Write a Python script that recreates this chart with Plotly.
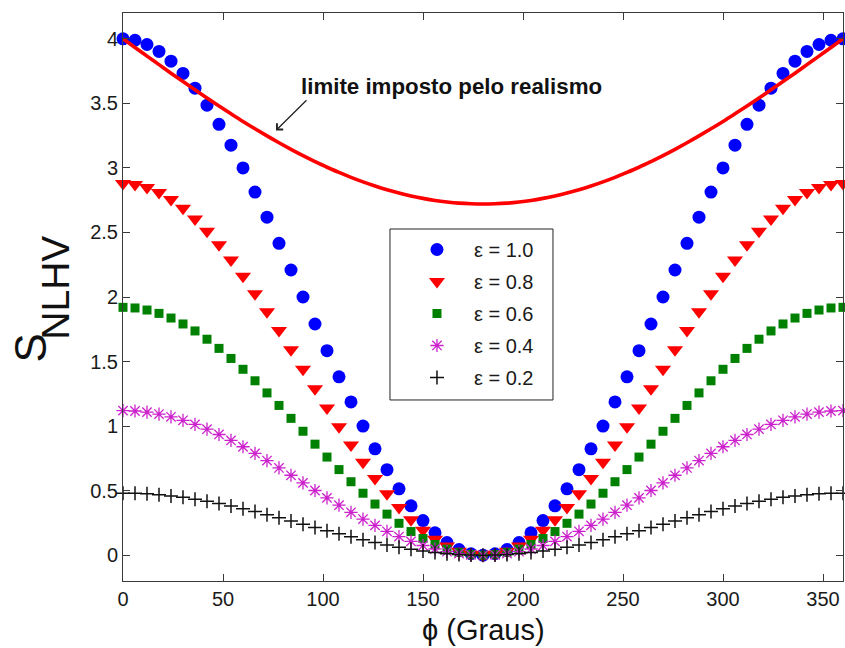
import plotly.graph_objects as go

# x grid (degrees)
phi = list(range(0, 361, 6))

s_eps10 = [4.0, 3.989, 3.956, 3.902, 3.827, 3.732, 3.618, 3.486, 3.338, 3.176, 3.0, 2.813, 2.618, 2.416, 2.209, 2.0,
           1.791, 1.584, 1.382, 1.187, 1.0, 0.824, 0.662, 0.514, 0.382, 0.268, 0.173, 0.098, 0.044, 0.011, 0.0,
           0.011, 0.044, 0.098, 0.173, 0.268, 0.382, 0.514, 0.662, 0.824, 1.0, 1.187, 1.382, 1.584, 1.791, 2.0,
           2.209, 2.416, 2.618, 2.813, 3.0, 3.176, 3.338, 3.486, 3.618, 3.732, 3.827, 3.902, 3.956, 3.989, 4.0]
s_eps08 = [2.88, 2.872, 2.849, 2.809, 2.756, 2.687, 2.605, 2.51, 2.404, 2.286, 2.16, 2.026, 1.885, 1.74, 1.591, 1.44,
           1.289, 1.14, 0.995, 0.854, 0.72, 0.594, 0.476, 0.37, 0.275, 0.193, 0.124, 0.071, 0.031, 0.008, 0.0,
           0.008, 0.031, 0.071, 0.124, 0.193, 0.275, 0.37, 0.476, 0.594, 0.72, 0.854, 0.995, 1.14, 1.289, 1.44,
           1.591, 1.74, 1.885, 2.026, 2.16, 2.286, 2.404, 2.51, 2.605, 2.687, 2.756, 2.809, 2.849, 2.872, 2.88]
s_eps06 = [1.92, 1.915, 1.899, 1.873, 1.837, 1.791, 1.737, 1.673, 1.602, 1.524, 1.44, 1.351, 1.257, 1.16, 1.06, 0.96,
           0.86, 0.76, 0.663, 0.569, 0.48, 0.396, 0.318, 0.247, 0.183, 0.129, 0.083, 0.047, 0.021, 0.005, 0.0,
           0.005, 0.021, 0.047, 0.083, 0.129, 0.183, 0.247, 0.318, 0.396, 0.48, 0.569, 0.663, 0.76, 0.86, 0.96,
           1.06, 1.16, 1.257, 1.351, 1.44, 1.524, 1.602, 1.673, 1.737, 1.791, 1.837, 1.873, 1.899, 1.915, 1.92]
s_eps04 = [1.12, 1.117, 1.108, 1.093, 1.072, 1.045, 1.013, 0.976, 0.935, 0.889, 0.84, 0.788, 0.733, 0.676, 0.619, 0.56,
           0.501, 0.444, 0.387, 0.332, 0.28, 0.231, 0.185, 0.144, 0.107, 0.075, 0.048, 0.027, 0.012, 0.003, 0.0,
           0.003, 0.012, 0.027, 0.048, 0.075, 0.107, 0.144, 0.185, 0.231, 0.28, 0.332, 0.387, 0.444, 0.501, 0.56,
           0.619, 0.676, 0.733, 0.788, 0.84, 0.889, 0.935, 0.976, 1.013, 1.045, 1.072, 1.093, 1.108, 1.117, 1.12]
s_eps02 = [0.48, 0.479, 0.475, 0.468, 0.459, 0.448, 0.434, 0.418, 0.401, 0.381, 0.36, 0.338, 0.314, 0.29, 0.265, 0.24,
           0.215, 0.19, 0.166, 0.142, 0.12, 0.099, 0.079, 0.062, 0.046, 0.032, 0.021, 0.012, 0.005, 0.001, 0.0,
           0.001, 0.005, 0.012, 0.021, 0.032, 0.046, 0.062, 0.079, 0.099, 0.12, 0.142, 0.166, 0.19, 0.215, 0.24,
           0.265, 0.29, 0.314, 0.338, 0.36, 0.381, 0.401, 0.418, 0.434, 0.448, 0.459, 0.468, 0.475, 0.479, 0.48]
s_limit = [4.0, 3.933, 3.866, 3.8, 3.734, 3.669, 3.605, 3.541, 3.479, 3.419, 3.36, 3.303, 3.248, 3.195, 3.144, 3.095,
           3.049, 3.005, 2.965, 2.927, 2.892, 2.86, 2.831, 2.805, 2.783, 2.764, 2.748, 2.736, 2.727, 2.722, 2.72,
           2.722, 2.727, 2.736, 2.748, 2.764, 2.783, 2.805, 2.831, 2.86, 2.892, 2.927, 2.965, 3.005, 3.049, 3.095,
           3.144, 3.195, 3.248, 3.303, 3.36, 3.419, 3.479, 3.541, 3.605, 3.669, 3.734, 3.8, 3.866, 3.933, 4.0]

labels = ["ε = 1.0", "ε = 0.8", "ε = 0.6", "ε = 0.4", "ε = 0.2"]
x_ticks = [0, 50, 100, 150, 200, 250, 300, 350]
y_ticks = [0, 0.5, 1, 1.5, 2, 2.5, 3, 3.5, 4]
annot_text = "limite imposto pelo realismo"

FONT = "Arial, Liberation Sans, sans-serif"
AX = "#3a3a3a"

fig = go.Figure()
fig.add_trace(go.Scatter(x=phi, y=s_eps10, mode="markers", name=labels[0], cliponaxis=False, legendgroup="a",
                         marker=dict(symbol="circle", size=13, color="#0000ff", line=dict(width=0))))
fig.add_trace(go.Scatter(x=phi, y=s_eps08, mode="markers", name=labels[1], cliponaxis=False, legendgroup="b",
                         marker=dict(symbol="triangle-down", size=14, color="#ff0000", line=dict(width=0))))
fig.add_trace(go.Scatter(x=phi, y=s_eps06, mode="markers", name=labels[2], cliponaxis=False, legendgroup="c",
                         marker=dict(symbol="square", size=9, color="#008000", line=dict(width=0))))
fig.add_trace(go.Scatter(x=phi, y=s_eps04, mode="markers", name=labels[3], cliponaxis=False, legendgroup="d",
                         marker=dict(symbol="asterisk-open", size=11, color="#cc22cc",
                                     line=dict(width=1.3, color="#cc22cc"))))
fig.add_trace(go.Scatter(x=phi, y=s_eps02, mode="markers", name=labels[4], cliponaxis=False, legendgroup="e",
                         marker=dict(symbol="cross-thin-open", size=10, color="#111111",
                                     line=dict(width=1.5, color="#111111"))))
fig.add_trace(go.Scatter(x=phi, y=s_limit, mode="lines", showlegend=False, cliponaxis=False,
                         line=dict(color="#ff0000", width=3.6, shape="spline")))

fig.update_layout(
    width=845, height=648, autosize=False,
    margin=dict(l=123, r=2, t=13, b=67),
    paper_bgcolor="white", plot_bgcolor="white",
    font=dict(family=FONT, color="#1a1a1a", size=20),
    showlegend=True,
    legend=dict(x=0.3847, y=0.618, xanchor="left", yanchor="top",
                borderwidth=0, bgcolor="rgba(0,0,0,0)",
                font=dict(family=FONT, size=20, color="#1a1a1a"),
                itemwidth=64, tracegroupgap=3, traceorder="grouped"),
    xaxis=dict(range=[0, 360], tickvals=x_ticks, ticks="inside", ticklen=7, tickcolor=AX,
               showline=True, linecolor=AX, linewidth=1, mirror="ticks",
               showgrid=False, zeroline=False, tickfont=dict(size=20, family=FONT)),
    yaxis=dict(range=[-0.2, 4.2], tickvals=y_ticks, ticks="inside", ticklen=7, tickcolor=AX,
               showline=True, linecolor=AX, linewidth=1, mirror="ticks",
               showgrid=False, zeroline=False, tickfont=dict(size=20, family=FONT)),
)

# legend frame
fig.add_shape(type="rect", xref="paper", yref="paper", x0=0.3708, x1=0.5972, y0=0.3187, y1=0.6197,
              line=dict(color="#222222", width=1), fillcolor="white", layer="above")

# axis titles
fig.add_annotation(text="S", xref="paper", yref="paper", x=-0.1653, y=0.41,
                   textangle=-90, showarrow=False, font=dict(size=44, family=FONT, color="#111"))
fig.add_annotation(text="NLHV", xref="paper", yref="paper", x=-0.126, y=0.516,
                   textangle=-90, showarrow=False, font=dict(size=39, family=FONT, color="#111"))
fig.add_annotation(text="ϕ (Graus)", xref="paper", yref="paper", x=0.5, y=-0.0863,
                   xanchor="center", yanchor="middle", showarrow=False,
                   font=dict(size=29, family=FONT, color="#111"))

# label + arrow
fig.add_annotation(text="<b>" + annot_text + "</b>", xref="x", yref="y", x=88, y=3.63,
                   xanchor="left", yanchor="middle", showarrow=False,
                   font=dict(size=22.3, family=FONT, color="#111"))
fig.add_annotation(text="", xref="x", yref="y", x=76.5, y=3.29, ax=92.5, ay=3.535,
                   axref="x", ayref="y", showarrow=True, arrowhead=4, arrowsize=1.3,
                   arrowwidth=1.3, arrowcolor="#222")

fig.write_html("out.html", config={"displayModeBar": False},
               post_script="document.body.style.margin='0';document.body.style.overflow='hidden';")
